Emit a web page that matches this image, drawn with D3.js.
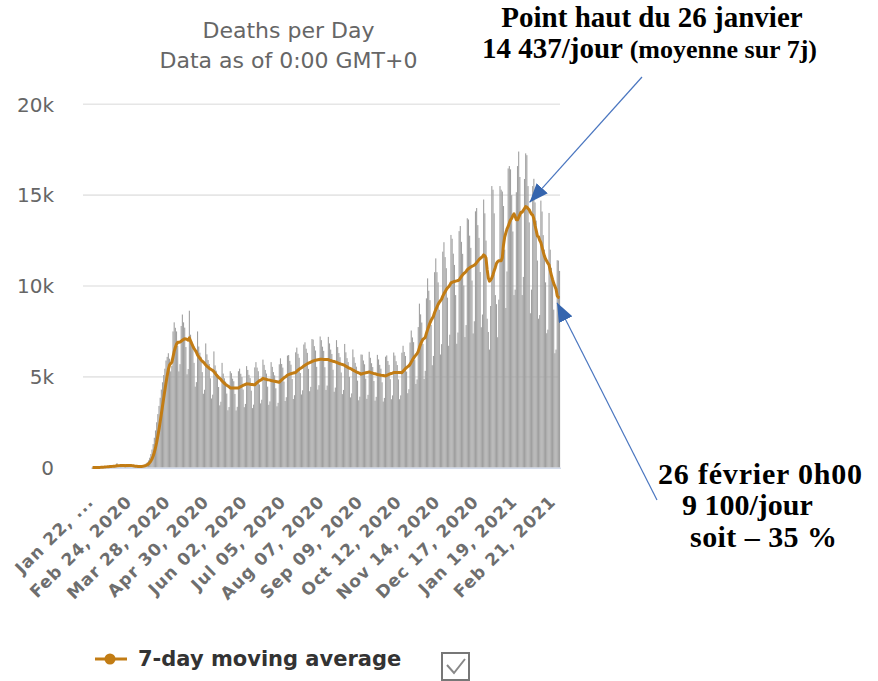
<!DOCTYPE html>
<html><head><meta charset="utf-8">
<script src="https://cdn.jsdelivr.net/npm/d3@7"></script>
<style>html,body{margin:0;padding:0;background:#fff;} svg{display:block;}</style>
</head><body>
<svg id="c" width="878" height="681"></svg>
<script>
// ---------------- DATA ----------------
const startDate = "2020-01-22";
const dailyDeaths = [
17,1,8,16,14,26,26,
38,43,46,45,57,64,66,
73,73,86,89,97,108,97,
254,13,143,142,106,98,139,
136,115,118,109,97,150,71,
64,37,58,64,58,73,93,
95,110,150,180,230,300,400,
550,750,1000,1300,1650,2050,2500,
2950,3400,3850,4300,4700,5100,5450,
5900,6100,6300,6000,5300,5600,7500,
8000,7700,7500,6700,5300,5700,7800,
8430,8000,7710,6640,5140,5430,8640,
7320,6940,6700,5770,4460,4710,7500,
6670,6330,6100,5260,4070,4290,6840,
6240,5930,5710,4920,3810,4020,6400,
5630,5340,5150,4440,3430,3630,5770,
5180,4920,4740,4080,3160,3340,5310,
5200,4900,4760,4060,3150,3350,5310,
5450,5170,4990,4300,3330,3510,5590,
5380,5110,4930,4240,3280,3470,5520,
5810,5510,5310,4580,3540,3740,5950,
5660,5380,5180,4460,3460,3650,5810,
5550,5260,5080,4370,3380,3570,5690,
6020,5710,5510,4740,3670,3880,6170,
6200,5880,5670,4880,3780,3990,6350,
6610,6270,6050,5210,4030,4260,6780,
6900,6550,6320,5440,4210,4450,7080,
7050,6690,6450,5550,4300,4540,7220,
7020,6660,6430,5530,4280,4520,7200,
6840,6500,6260,5390,4180,4410,7020,
6640,6310,6080,5240,4050,4280,6810,
6350,6030,5810,5000,3870,4090,6510,
6080,5770,5560,4790,3710,3910,6230,
6220,5900,5690,4900,3790,4010,6380,
6050,5750,5540,4770,3690,3900,6210,
5960,5660,5450,4700,3640,3840,6110,
6180,5870,5660,4870,3770,3980,6340,
6170,5860,5650,4860,3770,3980,6330,
6710,6370,6150,5290,4100,4320,6890,
7550,7170,6910,5950,4610,4860,7740,
9030,8440,7990,6810,4880,5330,9320,
10420,9740,9220,7860,5640,6150,10760,
11520,10760,10200,8690,6230,6800,11890,
12410,11590,10980,9360,6710,7320,12810,
12600,11780,11160,9500,6820,7440,13020,
13300,12430,11770,10030,7190,7850,13730,
13660,12770,12100,10300,7390,8060,14110,
14290,13350,12650,10770,7730,8430,14760,
14000,12500,8200,7470,6500,8900,15500,
15300,14000,9500,9000,7180,9250,15500,
15300,15200,14400,12000,8790,10800,16470,
16600,16420,15000,13000,9500,9800,15160,
16600,17400,16000,14000,9500,10500,15890,
17300,17200,15500,13500,8500,9800,15500,
15900,14600,13600,11400,8200,8400,14700,
14100,12800,12000,10200,7400,7600,14020,
12000,11000,10300,8700,6300,6500,11420,
11400,10830
];
const yTicks = [0, 5000, 10000, 15000, 20000];
const yTickLabels = ["0", "5k", "10k", "15k", "20k"];
const tickDates = ["2020-01-22","2020-02-24","2020-03-28","2020-04-30","2020-06-02","2020-07-05",
  "2020-08-07","2020-09-09","2020-10-12","2020-11-14","2020-12-17","2021-01-19","2021-02-21"];
const tickLabels = ["Jan 22, ...","Feb 24, 2020","Mar 28, 2020","Apr 30, 2020","Jun 02, 2020","Jul 05, 2020",
  "Aug 07, 2020","Sep 09, 2020","Oct 12, 2020","Nov 14, 2020","Dec 17, 2020","Jan 19, 2021","Feb 21, 2021"];
const titleLines = ["Deaths per Day", "Data as of 0:00 GMT+0"];
const legendLabel = "7-day moving average";
const note1 = ["Point haut du 26 janvier", "14 437/jour", "(moyenne sur 7j)"];
const note2 = ["26 février 0h00", "9 100/jour", "soit – 35 %"];
const peakDate = "2021-01-26";
const lastDate = "2021-02-25";
const avgWindow = 7;

// ---------------- CHART ----------------
const svg = d3.select("#c");
svg.append("rect").attr("width", 878).attr("height", 681).attr("fill", "#fff");

const parse = d3.utcParse("%Y-%m-%d");
const fmt = d3.utcFormat("%Y-%m-%d");
const start = parse(startDate);
const dayKeys = dailyDeaths.map((_, i) => fmt(d3.utcDay.offset(start, i)));
const avg = dailyDeaths.map((_, i) => d3.mean(dailyDeaths.slice(Math.max(0, i - avgWindow + 1), i + 1)));

const x = d3.scaleBand().domain(dayKeys).range([91.9, 560.1]).paddingInner(0.06);
const cx = k => x(k) + x.bandwidth() / 2;
const y = d3.scaleLinear().domain([0, 20000]).range([467.7, 104.3]);

// gridlines
svg.append("g").selectAll("line").data(yTicks.filter(v => v > 0)).join("line")
  .attr("x1", 83).attr("x2", 560)
  .attr("y1", d => y(d)).attr("y2", d => y(d))
  .attr("stroke", "#e6e6e6").attr("stroke-width", 1.6);

// y labels
svg.append("g").selectAll("text").data(yTicks).join("text")
  .attr("x", 54).attr("y", d => y(d)).attr("dy", "0.36em")
  .attr("text-anchor", "end")
  .attr("font-family", "DejaVu Sans").attr("font-size", 20).attr("fill", "#666")
  .text((d, i) => yTickLabels[i]);

// bars
svg.append("g").selectAll("rect").data(dailyDeaths).join("rect")
  .attr("x", (d, i) => x(dayKeys[i]))
  .attr("width", x.bandwidth())
  .attr("y", d => y(d))
  .attr("height", d => y(0) - y(d))
  .attr("fill", "#a0a0a0");

// baseline
svg.append("line").attr("x1", 91).attr("x2", 561).attr("y1", y(0) + 0.5).attr("y2", y(0) + 0.5)
  .attr("stroke", "#d4dcec").attr("stroke-width", 1.5);

// moving average line
svg.append("path").datum(avg)
  .attr("d", d3.line().x((d, i) => cx(dayKeys[i])).y(d => y(d)))
  .attr("fill", "none").attr("stroke", "#c27c14").attr("stroke-width", 3)
  .attr("stroke-linejoin", "round");

// x axis labels
const xAxis = d3.axisBottom(x).tickValues(tickDates).tickSize(0)
  .tickFormat((d, i) => tickLabels[i]);
const gx = svg.append("g").attr("transform", `translate(0,${y(0)})`).call(xAxis);
gx.select(".domain").remove();
gx.selectAll("text")
  .attr("x", 0).attr("y", 0).attr("dy", 0)
  .attr("transform", "translate(2,35) rotate(-45)")
  .attr("text-anchor", "end")
  .attr("font-family", "DejaVu Sans").attr("font-weight", "bold").attr("font-size", 17)
  .attr("letter-spacing", 1)
  .attr("fill", "#6e6e6e");

// title
svg.append("g").selectAll("text").data(titleLines).join("text")
  .attr("x", 288.5).attr("y", (d, i) => 38 + i * 30)
  .attr("text-anchor", "middle")
  .attr("font-family", "DejaVu Sans").attr("font-size", 22).attr("fill", "#666")
  .text(d => d);

// legend
const lg = svg.append("g");
lg.append("line").attr("x1", 95).attr("x2", 127).attr("y1", 659).attr("y2", 659)
  .attr("stroke", "#c27c14").attr("stroke-width", 3);
lg.append("circle").attr("cx", 110).attr("cy", 659).attr("r", 5.5).attr("fill", "#c27c14");
lg.append("text").attr("x", 138).attr("y", 666)
  .attr("font-family", "DejaVu Sans").attr("font-weight", "bold").attr("font-size", 21)
  .attr("fill", "#333").text(legendLabel);
lg.append("rect").attr("x", 442).attr("y", 653).attr("width", 27).attr("height", 27)
  .attr("fill", "#fff").attr("stroke", "#777").attr("stroke-width", 2);
lg.append("path").attr("d", "M447,665 L454,673 L465,659")
  .attr("fill", "none").attr("stroke", "#888").attr("stroke-width", 2);

// annotations
const serif = "Liberation Serif, Times New Roman, serif";
const t1 = svg.append("g").attr("font-family", serif).attr("font-weight", "bold").attr("fill", "#000");
t1.append("text").attr("x", 652).attr("y", 27).attr("text-anchor", "middle")
  .attr("font-size", 29).text(note1[0]);
const l2 = t1.append("text").attr("x", 482).attr("y", 58);
l2.append("tspan").attr("font-size", 29).text(note1[1] + " ");
l2.append("tspan").attr("font-size", 26).text(note1[2]);

const t2 = svg.append("g").attr("font-family", serif).attr("font-weight", "bold").attr("fill", "#000")
  .attr("font-size", 30);
t2.append("text").attr("x", 658).attr("y", 484).attr("textLength", 204).attr("lengthAdjust", "spacing").text(note2[0]);
t2.append("text").attr("x", 682).attr("y", 515).text(note2[1]);
t2.append("text").attr("x", 690).attr("y", 547).attr("textLength", 147).attr("lengthAdjust", "spacing").text(note2[2]);

// arrows
const defs = svg.append("defs");
defs.append("marker").attr("id", "ah").attr("markerUnits", "userSpaceOnUse")
  .attr("markerWidth", 19).attr("markerHeight", 15).attr("viewBox", "0 0 19 15")
  .attr("refX", 19).attr("refY", 7.5).attr("orient", "auto")
  .append("path").attr("d", "M0,0 L19,7.5 L0,15 Z").attr("fill", "#3565ae");

const pk = dayKeys.indexOf(peakDate), ls = dayKeys.indexOf(lastDate);
const tip1 = [cx(peakDate) + 5, y(avg[pk]) - 6];
const tip2 = [cx(lastDate) - 2.5, y(avg[ls]) + 5];
svg.append("line").attr("x1", 642).attr("y1", 77).attr("x2", tip1[0]).attr("y2", tip1[1])
  .attr("stroke", "#4a76c0").attr("stroke-width", 1.2).attr("marker-end", "url(#ah)");
svg.append("line").attr("x1", 657).attr("y1", 500).attr("x2", tip2[0]).attr("y2", tip2[1])
  .attr("stroke", "#4a76c0").attr("stroke-width", 1.2).attr("marker-end", "url(#ah)");
</script>
</body></html>
